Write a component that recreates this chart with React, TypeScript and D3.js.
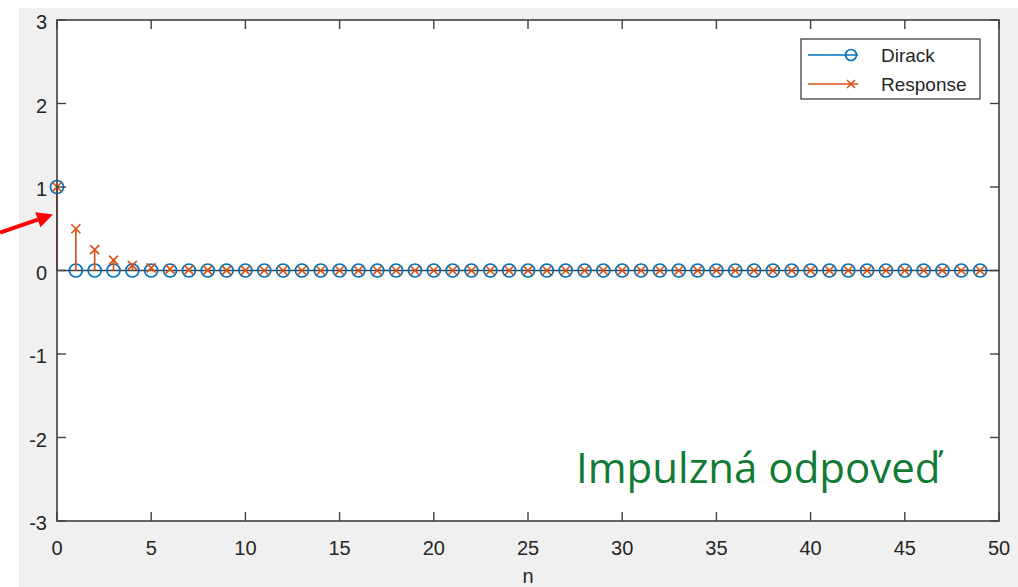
import { useEffect } from 'react';
import * as d3 from 'd3';

const n = d3.range(0, 50);
const dirack = [
  1, 0, 0, 0, 0, 0, 0, 0, 0, 0, 0, 0, 0, 0, 0, 0, 0, 0, 0, 0, 0, 0, 0, 0, 0,
  0, 0, 0, 0, 0, 0, 0, 0, 0, 0, 0, 0, 0, 0, 0, 0, 0, 0, 0, 0, 0, 0, 0, 0, 0,
];
const response = [
  1, 0.5, 0.25, 0.125, 0.0625, 0.031, 0.016, 0.008, 0.004, 0.002, 0.001, 0, 0,
  0, 0, 0, 0, 0, 0, 0, 0, 0, 0, 0, 0, 0, 0, 0, 0, 0, 0, 0, 0, 0, 0, 0, 0, 0, 0,
  0, 0, 0, 0, 0, 0, 0, 0, 0, 0, 0,
];
const xTicks = [0, 5, 10, 15, 20, 25, 30, 35, 40, 45, 50];
const yTicks = [-3, -2, -1, 0, 1, 2, 3];
const legendItems = ['Dirack', 'Response'];

const W = 1018;
const H = 587;
const BLUE = '#0072BD';
const ORANGE = '#D95319';
const AX = '#404040';

export default function App() {
  useEffect(() => {
    document.body.style.margin = '0';
  }, []);

  const x = d3.scaleLinear().domain([0, 50]).range([57, 999]);
  const y = d3.scaleLinear().domain([-3, 3]).range([521, 20]);
  const [x0, x1] = x.range();
  const [yb, yt] = y.range();
  const tick = 9;
  const font = '"Liberation Sans", Arial, Helvetica, sans-serif';

  // arrow pointing at the first response stem
  const tip = { x: x(0) - 4, y: y(0.67) };
  const tail = { x: 0, y: y(0.67) + 18 };
  const ang = Math.atan2(tip.y - tail.y, tip.x - tail.x);
  const hl = 16;
  const hw = 8;
  const bx = tip.x - hl * Math.cos(ang);
  const by = tip.y - hl * Math.sin(ang);
  const head = [
    [tip.x, tip.y],
    [bx + hw * Math.sin(ang), by - hw * Math.cos(ang)],
    [bx - hw * Math.sin(ang), by + hw * Math.cos(ang)],
  ];

  const lx = 801;
  const ly = 39;

  return (
    <svg width={W} height={H} style={{ display: 'block', fontFamily: font }}>
      <rect x={0} y={0} width={W} height={H} fill="#fff" />
      <rect x={19} y={8} width={W - 19} height={H - 8} fill="#f0f0f0" />
      <rect x={x0} y={yt} width={x1 - x0} height={yb - yt} fill="#fff" />

      {/* baseline */}
      <line x1={x0} x2={x1} y1={y(0)} y2={y(0)} stroke={AX} strokeWidth={1.6} />

      {/* Dirack stems */}
      {n.map((i) => (
        <line key={'ds' + i} x1={x(i)} x2={x(i)} y1={y(0)} y2={y(dirack[i])} stroke={BLUE} strokeWidth={1.7} />
      ))}
      {n.map((i) => (
        <circle key={'dc' + i} cx={x(i)} cy={y(dirack[i])} r={6.5} fill="none" stroke={BLUE} strokeWidth={1.7} />
      ))}

      {/* Response stems */}
      {n.map((i) => (
        <line key={'rs' + i} x1={x(i)} x2={x(i)} y1={y(0)} y2={y(response[i])} stroke={ORANGE} strokeWidth={1.7} />
      ))}
      {n.map((i) => (
        <path
          key={'rx' + i}
          d={`M${x(i) - 4.5},${y(response[i]) - 4.5}L${x(i) + 4.5},${y(response[i]) + 4.5}M${x(i) - 4.5},${y(response[i]) + 4.5}L${x(i) + 4.5},${y(response[i]) - 4.5}`}
          stroke={ORANGE}
          strokeWidth={1.7}
        />
      ))}

      {/* box + ticks */}
      <rect x={x0} y={yt} width={x1 - x0} height={yb - yt} fill="none" stroke={AX} strokeWidth={1.6} />
      {xTicks.map((t) => (
        <g key={'xt' + t}>
          <line x1={x(t)} x2={x(t)} y1={yb} y2={yb - tick} stroke={AX} strokeWidth={1.4} />
          <line x1={x(t)} x2={x(t)} y1={yt} y2={yt + tick} stroke={AX} strokeWidth={1.4} />
          <text x={x(t)} y={yb + 34} textAnchor="middle" fontSize={20} fill="#262626">
            {t}
          </text>
        </g>
      ))}
      {yTicks.map((t) => (
        <g key={'yt' + t}>
          <line x1={x0} x2={x0 + tick} y1={y(t)} y2={y(t)} stroke={AX} strokeWidth={1.4} />
          <line x1={x1} x2={x1 - tick} y1={y(t)} y2={y(t)} stroke={AX} strokeWidth={1.4} />
          <text x={47} y={y(t) + 9} textAnchor="end" fontSize={20} fill="#262626">
            {t}
          </text>
        </g>
      ))}
      <text x={(x0 + x1) / 2} y={yb + 62} textAnchor="middle" fontSize={20} fill="#262626">
        n
      </text>

      {/* legend */}
      <rect x={lx} y={ly} width={179} height={60} fill="#fff" stroke={AX} strokeWidth={1.3} />
      {legendItems.map((name, i) => {
        const yy = ly + 16 + i * 29;
        const c = i === 0 ? BLUE : ORANGE;
        return (
          <g key={name}>
            <line x1={lx + 7} x2={lx + 57} y1={yy} y2={yy} stroke={c} strokeWidth={1.6} />
            {i === 0 ? (
              <circle cx={lx + 50} cy={yy} r={5.5} fill="none" stroke={c} strokeWidth={1.7} />
            ) : (
              <path
                d={`M${lx + 46},${yy - 4}L${lx + 54},${yy + 4}M${lx + 46},${yy + 4}L${lx + 54},${yy - 4}`}
                stroke={c}
                strokeWidth={1.6}
              />
            )}
            <text x={lx + 80} y={yy + 7} fontSize={19} fill="#262626">
              {name}
            </text>
          </g>
        );
      })}

      {/* annotation */}
      <text x={576} y={483} fontSize={42} fill="#117a35" fontFamily='"Open Sans", Lato, sans-serif'>
        Impulzná odpoveď
      </text>
      <line x1={tail.x} y1={tail.y} x2={bx} y2={by} stroke="#f00" strokeWidth={4} />
      <polygon points={head.map((p) => p.join(',')).join(' ')} fill="#f00" />
    </svg>
  );
}
